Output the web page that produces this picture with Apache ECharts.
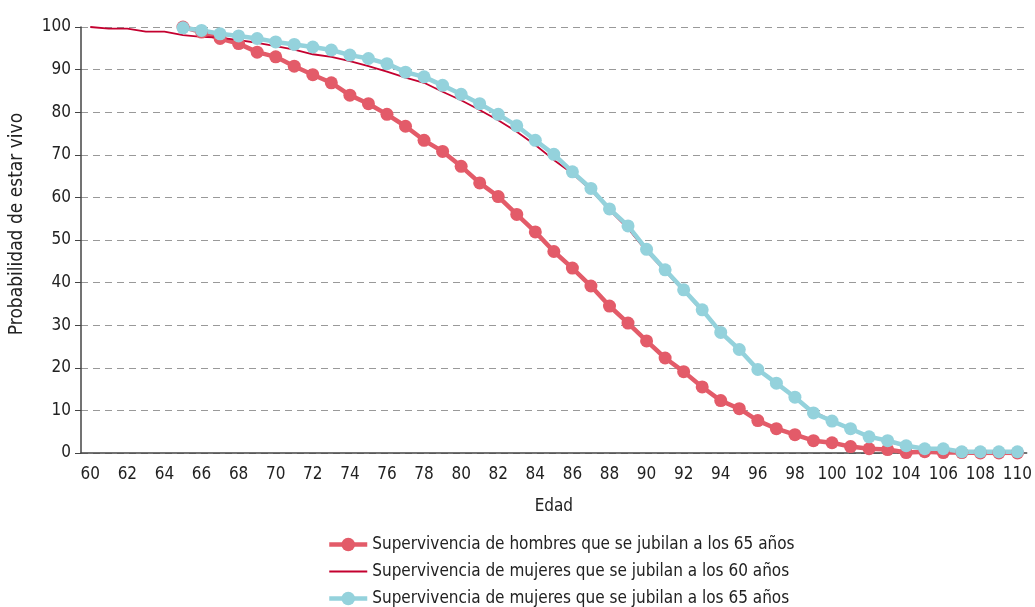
<!DOCTYPE html>
<html>
<head>
<meta charset="utf-8">
<script src="https://cdn.jsdelivr.net/npm/echarts@6/dist/echarts.min.js"></script>
<style>
  html, body { margin: 0; padding: 0; background: #fff; }
  #chart { width: 1035px; height: 607px; }
</style>
</head>
<body>
<div id="chart"></div>
<script>
// edades 60..110
var edades = [];
for (var a = 60; a <= 110; a++) { edades.push(String(a)); }

// hombres que se jubilan a los 65 (empieza en 65)
var hombres65 = [
  null, null, null, null, null,
  100, 98.8, 97.3, 96.1, 94.1, 93.0, 90.8, 88.8, 86.9, 84.0,
  82.0, 79.5, 76.7, 73.4, 70.8, 67.3, 63.4, 60.2, 56.0, 51.9,
  47.3, 43.4, 39.2, 34.5, 30.5, 26.3, 22.3, 19.1, 15.5, 12.3,
  10.4, 7.6, 5.7, 4.3, 2.9, 2.4, 1.5, 1.0, 0.8, 0.1,
  0.3, 0.1, 0.1, 0, 0, 0
];

// mujeres que se jubilan a los 60
var mujeres60 = [
  100, 99.6, 99.6, 98.9, 98.9,
  98.1, 97.7, 97.5, 96.9, 96.3, 95.5, 94.7, 93.6, 93.0, 92.0,
  90.8, 89.5, 88.1, 86.9, 84.8, 82.8, 80.5, 78.1, 75.4, 72.3,
  68.8, 65.6, 61.7, 57.0, 52.7, 47.3, 42.7, 38.0, 33.3, 28.5,
  24.0, 19.8, 16.2, 13.0, 9.8, 7.6, 5.6, 3.8, 2.6, 1.6,
  0.9, 0.6, 0.3, 0.2, 0.1, 0.1
];

// mujeres que se jubilan a los 65
var mujeres65 = [
  null, null, null, null, null,
  99.8, 99.2, 98.4, 97.9, 97.3, 96.5, 95.9, 95.3, 94.6, 93.4,
  92.6, 91.4, 89.4, 88.3, 86.3, 84.2, 82.0, 79.5, 76.8, 73.4,
  70.1, 66.0, 62.1, 57.3, 53.3, 47.8, 43.0, 38.3, 33.6, 28.3,
  24.3, 19.6, 16.4, 13.1, 9.4, 7.5, 5.7, 3.8, 2.9, 1.7,
  1.0, 1.0, 0.3, 0.3, 0.3, 0.3
];

var nombres = [
  'Supervivencia de hombres que se jubilan a los 65 años',
  'Supervivencia de mujeres que se jubilan a los 60 años',
  'Supervivencia de mujeres que se jubilan a los 65 años'
];

var fuente = '"DejaVu Sans Condensed", "Liberation Sans Narrow", sans-serif';
var gris = '#222';

var myChart = echarts.init(document.getElementById('chart'));
myChart.setOption({
  animation: false,
  textStyle: { fontFamily: fuente },
  grid: { left: 81, right: 5, top: 27, bottom: 154, containLabel: false },
  legend: {
    orient: 'vertical',
    left: 327,
    top: 536,
    height: 100,
    padding: 0,
    itemGap: 10,
    itemWidth: 38,
    itemHeight: 17,
    lineStyle: { width: 'inherit' },
    textStyle: { fontFamily: fuente, fontSize: 17, color: gris, lineHeight: 17 },
    data: [
      { name: nombres[0] },
      { name: nombres[1], itemStyle: { color: 'rgba(0,0,0,0)', borderWidth: 0, opacity: 0 } },
      { name: nombres[2] }
    ]
  },
  xAxis: {
    type: 'category',
    data: edades,
    boundaryGap: true,
    name: 'Edad',
    nameLocation: 'middle',
    nameGap: 45,
    nameTextStyle: { fontFamily: fuente, fontSize: 17, color: gris },
    axisLine: { lineStyle: { color: '#444', width: 1.5 } },
    axisTick: { interval: 0, length: 5, lineStyle: { color: '#444' } },
    axisLabel: { interval: 1, fontFamily: fuente, fontSize: 17, color: gris, margin: 13 },
    splitLine: { show: false }
  },
  yAxis: {
    type: 'value',
    min: 0,
    max: 100,
    interval: 10,
    name: 'Probabilidad de estar vivo',
    nameLocation: 'middle',
    nameGap: 54,
    nameTextStyle: { fontFamily: fuente, fontSize: 19, color: gris, padding: [0, 0, 0, 32] },
    axisLine: { show: true, lineStyle: { color: '#444', width: 1.5 } },
    axisTick: { show: true, length: 6, lineStyle: { color: '#444' } },
    axisLabel: { fontFamily: fuente, fontSize: 17, color: gris, margin: 10 },
    splitLine: { show: true, lineStyle: { color: '#999', type: [7, 5], width: 1 } }
  },
  series: [
    {
      name: nombres[0],
      type: 'line',
      data: hombres65,
      color: '#e35b69',
      symbol: 'circle',
      symbolSize: 13,
      showAllSymbol: true,
      lineStyle: { width: 4.5, color: '#e35b69' },
      itemStyle: { color: '#e35b69' }
    },
    {
      name: nombres[1],
      type: 'line',
      data: mujeres60,
      color: '#c4002f',
      symbol: 'none',
      showSymbol: false,
      lineStyle: { width: 1.8, color: '#c4002f' },
      itemStyle: { color: '#c4002f' }
    },
    {
      name: nombres[2],
      type: 'line',
      data: mujeres65,
      color: '#94d2dc',
      symbol: 'circle',
      symbolSize: 13,
      showAllSymbol: true,
      lineStyle: { width: 4.5, color: '#94d2dc' },
      itemStyle: { color: '#94d2dc' }
    }
  ]
});
</script>
</body>
</html>
